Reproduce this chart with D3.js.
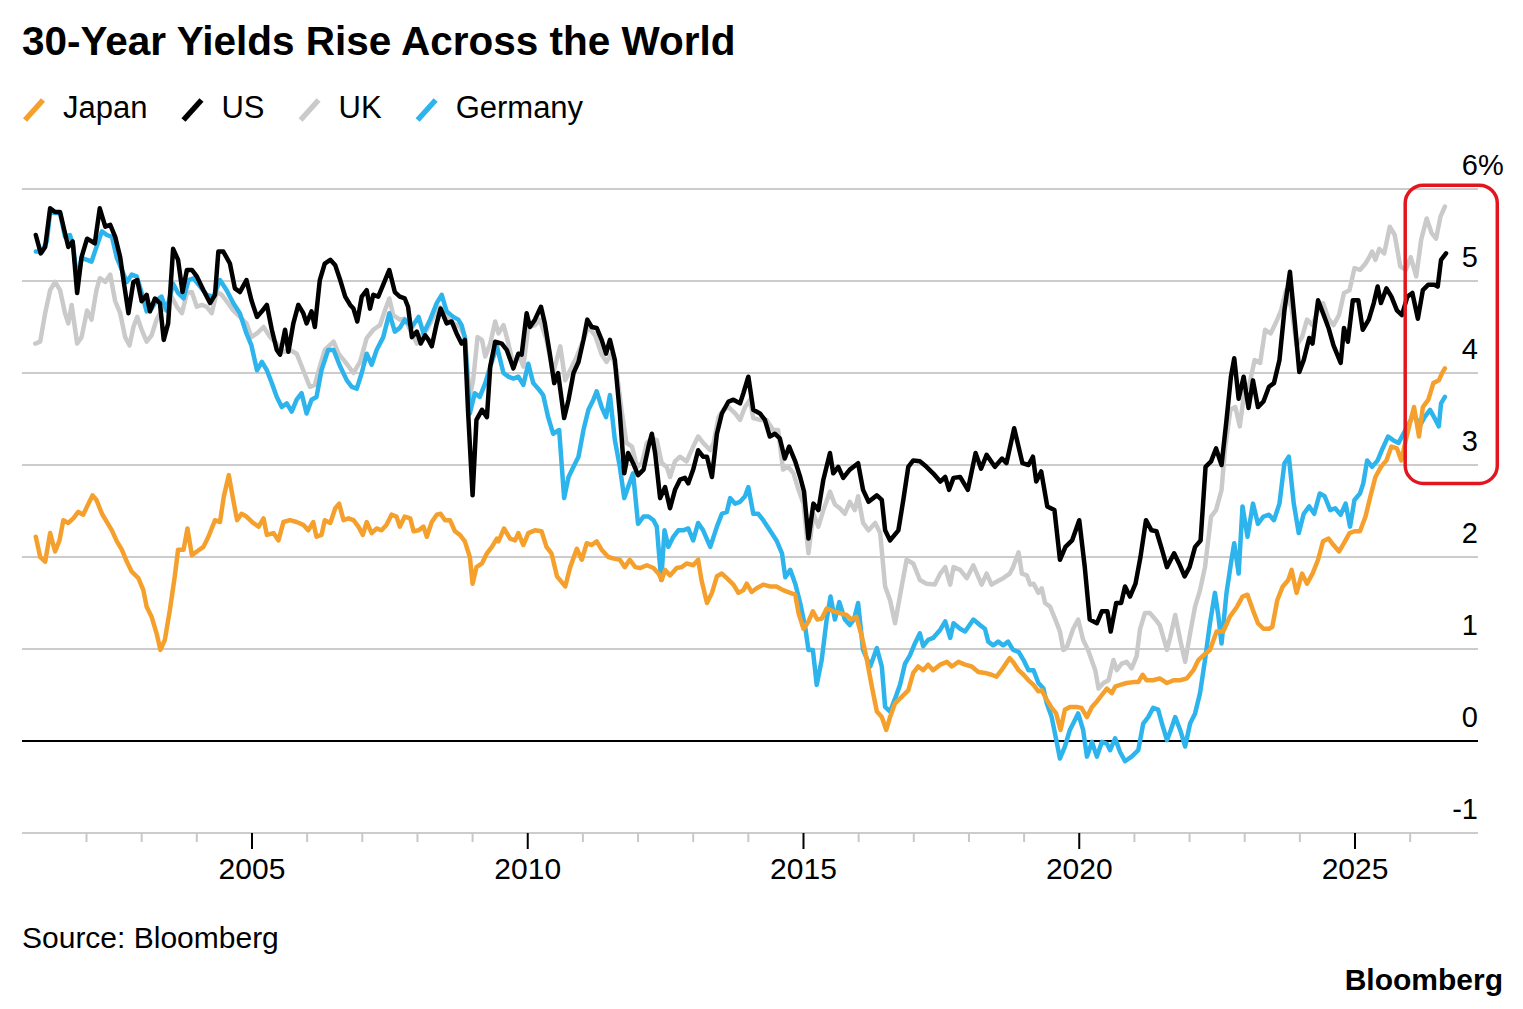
<!DOCTYPE html>
<html>
<head>
<meta charset="utf-8">
<script src="https://cdn.jsdelivr.net/npm/d3@7"></script>
<style>
  body { margin: 0; background: #fff; }
  svg { display: block; }
  text { font-family: "Liberation Sans", Arial, Helvetica, sans-serif; fill: #000; }
</style>
</head>
<body>
<svg id="chart" width="1523" height="1009"></svg>
<script>
// ---------------- DATA (decimal year, % yield) ----------------
const titleText = "30-Year Yields Rise Across the World";
const sourceText = "Source: Bloomberg";
const brandText = "Bloomberg";
const seriesNames = ["Japan", "US", "UK", "Germany"];
const seriesColors = ["#f5a02c", "#000000", "#cacaca", "#2db4ec"];
const yTickValues = [6, 5, 4, 3, 2, 1, 0, -1];
const xMajorTicks = [2005, 2010, 2015, 2020, 2025];
const xMinorTicks = [2002, 2003, 2004, 2006, 2007, 2008, 2009, 2011, 2012, 2013, 2014, 2016, 2017, 2018, 2019, 2021, 2022, 2023, 2024, 2026];

const japan = [[2001.08,2.22],[2001.16,2.00],[2001.25,1.95],[2001.34,2.26],[2001.43,2.06],[2001.51,2.18],[2001.58,2.40],[2001.67,2.37],[2001.76,2.42],[2001.85,2.49],[2001.94,2.46],[2002.01,2.55],[2002.11,2.67],[2002.18,2.62],[2002.28,2.47],[2002.37,2.38],[2002.46,2.29],[2002.55,2.17],[2002.64,2.08],[2002.73,1.95],[2002.82,1.84],[2002.94,1.77],[2003.03,1.64],[2003.09,1.46],[2003.18,1.35],[2003.27,1.17],[2003.34,0.99],[2003.42,1.10],[2003.51,1.42],[2003.60,1.79],[2003.66,2.08],[2003.76,2.08],[2003.83,2.31],[2003.91,2.02],[2004.00,2.06],[2004.12,2.11],[2004.21,2.22],[2004.33,2.40],[2004.42,2.38],[2004.49,2.66],[2004.58,2.89],[2004.66,2.62],[2004.73,2.40],[2004.81,2.47],[2004.90,2.44],[2005.02,2.37],[2005.12,2.33],[2005.21,2.42],[2005.27,2.24],[2005.39,2.26],[2005.48,2.18],[2005.57,2.38],[2005.69,2.40],[2005.81,2.38],[2005.93,2.35],[2006.02,2.29],[2006.11,2.38],[2006.17,2.22],[2006.26,2.24],[2006.32,2.40],[2006.42,2.37],[2006.51,2.53],[2006.58,2.58],[2006.66,2.40],[2006.75,2.42],[2006.84,2.40],[2006.93,2.33],[2007.01,2.24],[2007.08,2.38],[2007.17,2.26],[2007.26,2.31],[2007.35,2.29],[2007.44,2.35],[2007.53,2.46],[2007.62,2.44],[2007.68,2.33],[2007.77,2.44],[2007.87,2.42],[2007.93,2.28],[2008.02,2.29],[2008.11,2.33],[2008.17,2.22],[2008.26,2.38],[2008.35,2.46],[2008.42,2.47],[2008.50,2.40],[2008.59,2.40],[2008.68,2.28],[2008.77,2.24],[2008.86,2.17],[2008.95,2.00],[2009.00,1.71],[2009.07,1.89],[2009.17,1.93],[2009.26,2.04],[2009.35,2.11],[2009.44,2.20],[2009.47,2.17],[2009.57,2.31],[2009.68,2.20],[2009.77,2.18],[2009.83,2.26],[2009.92,2.13],[2010.01,2.26],[2010.13,2.29],[2010.25,2.28],[2010.34,2.11],[2010.43,2.04],[2010.53,1.79],[2010.68,1.68],[2010.77,1.89],[2010.89,2.09],[2010.98,1.97],[2011.07,2.15],[2011.16,2.13],[2011.25,2.17],[2011.34,2.08],[2011.46,2.00],[2011.58,1.98],[2011.67,1.97],[2011.76,1.89],[2011.85,1.97],[2011.95,1.89],[2012.04,1.88],[2012.16,1.91],[2012.28,1.88],[2012.37,1.82],[2012.43,1.75],[2012.49,1.86],[2012.58,1.80],[2012.70,1.88],[2012.79,1.89],[2012.88,1.93],[2013.00,1.91],[2013.09,1.97],[2013.15,1.75],[2013.25,1.50],[2013.34,1.61],[2013.43,1.79],[2013.52,1.82],[2013.61,1.77],[2013.73,1.70],[2013.82,1.61],[2013.91,1.64],[2013.97,1.71],[2014.06,1.62],[2014.15,1.66],[2014.27,1.70],[2014.39,1.68],[2014.51,1.68],[2014.63,1.64],[2014.76,1.61],[2014.85,1.59],[2014.91,1.39],[2015.00,1.22],[2015.09,1.30],[2015.17,1.41],[2015.25,1.32],[2015.33,1.33],[2015.42,1.44],[2015.54,1.41],[2015.66,1.39],[2015.78,1.37],[2015.87,1.32],[2015.96,1.35],[2016.06,1.13],[2016.15,0.88],[2016.24,0.59],[2016.33,0.32],[2016.42,0.26],[2016.50,0.12],[2016.57,0.26],[2016.66,0.41],[2016.78,0.48],[2016.90,0.55],[2016.99,0.74],[2017.08,0.81],[2017.17,0.77],[2017.26,0.83],[2017.35,0.77],[2017.48,0.83],[2017.60,0.86],[2017.69,0.81],[2017.81,0.86],[2017.93,0.83],[2018.05,0.81],[2018.17,0.75],[2018.29,0.74],[2018.41,0.72],[2018.50,0.70],[2018.59,0.77],[2018.69,0.86],[2018.74,0.90],[2018.80,0.86],[2018.90,0.77],[2018.99,0.72],[2019.08,0.66],[2019.17,0.61],[2019.26,0.54],[2019.32,0.55],[2019.41,0.45],[2019.50,0.36],[2019.58,0.30],[2019.66,0.12],[2019.74,0.34],[2019.83,0.37],[2019.95,0.37],[2020.04,0.36],[2020.14,0.26],[2020.23,0.37],[2020.32,0.43],[2020.41,0.50],[2020.50,0.57],[2020.59,0.52],[2020.65,0.59],[2020.74,0.61],[2020.86,0.63],[2020.98,0.64],[2021.07,0.64],[2021.15,0.72],[2021.22,0.66],[2021.34,0.66],[2021.46,0.68],[2021.59,0.63],[2021.71,0.66],[2021.83,0.66],[2021.95,0.68],[2022.07,0.77],[2022.16,0.88],[2022.25,0.93],[2022.37,0.99],[2022.49,1.19],[2022.61,1.19],[2022.73,1.35],[2022.86,1.46],[2022.96,1.57],[2023.05,1.59],[2023.15,1.42],[2023.24,1.28],[2023.34,1.22],[2023.44,1.22],[2023.50,1.24],[2023.59,1.53],[2023.69,1.68],[2023.79,1.75],[2023.85,1.86],[2023.94,1.61],[2024.04,1.82],[2024.13,1.71],[2024.23,1.82],[2024.33,1.97],[2024.42,2.17],[2024.52,2.20],[2024.61,2.13],[2024.71,2.06],[2024.80,2.15],[2024.90,2.26],[2024.99,2.28],[2025.09,2.28],[2025.19,2.44],[2025.28,2.66],[2025.37,2.87],[2025.47,2.98],[2025.57,3.05],[2025.66,3.20],[2025.76,3.18],[2025.84,3.05],[2025.92,3.27],[2026.01,3.49],[2026.07,3.63],[2026.16,3.31],[2026.23,3.63],[2026.33,3.71],[2026.42,3.89],[2026.52,3.92],[2026.58,4.00],[2026.63,4.05]];

const us = [[2001.08,5.50],[2001.17,5.30],[2001.25,5.37],[2001.34,5.79],[2001.43,5.75],[2001.52,5.75],[2001.61,5.52],[2001.67,5.37],[2001.75,5.43],[2001.83,4.87],[2001.91,5.26],[2002.01,5.46],[2002.15,5.41],[2002.24,5.79],[2002.34,5.59],[2002.43,5.61],[2002.52,5.48],[2002.61,5.26],[2002.68,4.97],[2002.76,4.65],[2002.85,4.99],[2002.92,5.01],[2003.00,4.78],[2003.09,4.85],[2003.15,4.67],[2003.24,4.81],[2003.33,4.76],[2003.40,4.36],[2003.48,4.54],[2003.57,5.35],[2003.66,5.23],[2003.74,4.88],[2003.82,5.12],[2003.91,5.12],[2004.00,5.05],[2004.12,4.90],[2004.24,4.76],[2004.33,4.85],[2004.39,5.32],[2004.48,5.32],[2004.60,5.19],[2004.69,4.92],[2004.78,4.88],[2004.90,5.01],[2004.99,4.79],[2005.09,4.61],[2005.18,4.67],[2005.27,4.74],[2005.36,4.47],[2005.45,4.25],[2005.51,4.20],[2005.60,4.47],[2005.66,4.23],[2005.75,4.54],[2005.84,4.74],[2005.93,4.65],[2005.99,4.54],[2006.08,4.67],[2006.14,4.50],[2006.23,5.01],[2006.32,5.19],[2006.42,5.23],[2006.51,5.17],[2006.60,5.01],[2006.69,4.83],[2006.78,4.74],[2006.84,4.70],[2006.91,4.56],[2006.99,4.83],[2007.08,4.90],[2007.14,4.70],[2007.20,4.85],[2007.29,4.83],[2007.38,4.96],[2007.49,5.12],[2007.59,4.88],[2007.68,4.83],[2007.77,4.81],[2007.83,4.72],[2007.90,4.39],[2007.99,4.45],[2008.06,4.32],[2008.14,4.41],[2008.20,4.36],[2008.26,4.29],[2008.35,4.54],[2008.42,4.70],[2008.53,4.54],[2008.62,4.56],[2008.71,4.43],[2008.80,4.32],[2008.86,4.36],[2008.92,3.56],[2009.00,2.67],[2009.07,3.49],[2009.17,3.60],[2009.26,3.52],[2009.32,4.07],[2009.41,4.34],[2009.53,4.32],[2009.62,4.25],[2009.74,4.05],[2009.83,4.21],[2009.89,4.20],[2009.98,4.65],[2010.04,4.50],[2010.13,4.58],[2010.24,4.72],[2010.31,4.54],[2010.40,4.21],[2010.48,3.89],[2010.55,4.00],[2010.66,3.51],[2010.74,3.71],[2010.83,4.00],[2010.92,4.12],[2011.01,4.36],[2011.08,4.58],[2011.16,4.50],[2011.25,4.49],[2011.34,4.36],[2011.42,4.21],[2011.49,4.36],[2011.58,4.14],[2011.67,3.56],[2011.75,2.91],[2011.82,3.13],[2011.91,3.02],[2012.00,2.89],[2012.10,2.95],[2012.19,3.20],[2012.25,3.34],[2012.31,3.13],[2012.40,2.64],[2012.49,2.76],[2012.58,2.53],[2012.67,2.73],[2012.76,2.84],[2012.85,2.86],[2012.91,2.80],[2013.00,2.95],[2013.09,3.16],[2013.18,3.09],[2013.25,3.09],[2013.34,2.87],[2013.43,3.34],[2013.52,3.56],[2013.64,3.69],[2013.73,3.71],[2013.85,3.67],[2013.91,3.78],[2014.00,3.96],[2014.09,3.60],[2014.21,3.56],[2014.30,3.49],[2014.39,3.31],[2014.48,3.34],[2014.57,3.29],[2014.66,3.07],[2014.74,3.20],[2014.85,3.04],[2014.94,2.87],[2015.01,2.71],[2015.09,2.20],[2015.18,2.58],[2015.27,2.51],[2015.36,2.84],[2015.48,3.13],[2015.54,2.91],[2015.63,2.98],[2015.72,2.86],[2015.84,2.95],[2015.99,3.02],[2016.08,2.73],[2016.18,2.60],[2016.33,2.67],[2016.42,2.62],[2016.48,2.29],[2016.57,2.18],[2016.72,2.29],[2016.81,2.62],[2016.90,2.98],[2016.99,3.05],[2017.11,3.04],[2017.23,2.98],[2017.35,2.91],[2017.48,2.82],[2017.57,2.87],[2017.64,2.73],[2017.72,2.86],[2017.84,2.87],[2017.98,2.73],[2018.12,3.13],[2018.22,2.96],[2018.32,3.11],[2018.47,2.98],[2018.60,3.07],[2018.68,3.02],[2018.82,3.40],[2018.97,3.02],[2019.08,3.00],[2019.16,3.09],[2019.22,2.82],[2019.31,2.93],[2019.42,2.55],[2019.55,2.51],[2019.65,1.97],[2019.75,2.11],[2019.87,2.18],[2020.00,2.40],[2020.10,1.89],[2020.19,1.32],[2020.32,1.28],[2020.41,1.41],[2020.51,1.41],[2020.57,1.19],[2020.67,1.50],[2020.76,1.50],[2020.83,1.68],[2020.92,1.57],[2021.02,1.71],[2021.11,2.00],[2021.21,2.40],[2021.31,2.29],[2021.40,2.28],[2021.50,2.08],[2021.59,1.89],[2021.72,2.04],[2021.81,1.93],[2021.91,1.79],[2022.00,1.89],[2022.10,2.11],[2022.20,2.18],[2022.29,2.98],[2022.39,3.04],[2022.48,3.18],[2022.58,3.00],[2022.67,3.49],[2022.75,3.96],[2022.81,4.16],[2022.89,3.72],[2022.98,3.96],[2023.07,3.62],[2023.15,3.92],[2023.24,3.63],[2023.34,3.69],[2023.44,3.85],[2023.53,3.89],[2023.63,4.14],[2023.72,4.68],[2023.82,5.10],[2023.91,4.54],[2023.99,4.01],[2024.07,4.14],[2024.17,4.38],[2024.23,4.32],[2024.33,4.79],[2024.42,4.65],[2024.52,4.49],[2024.61,4.30],[2024.74,4.11],[2024.80,4.49],[2024.87,4.34],[2024.96,4.79],[2025.06,4.79],[2025.14,4.47],[2025.25,4.58],[2025.34,4.76],[2025.41,4.94],[2025.47,4.76],[2025.57,4.92],[2025.66,4.83],[2025.76,4.68],[2025.85,4.63],[2025.95,4.83],[2026.04,4.87],[2026.14,4.59],[2026.23,4.90],[2026.33,4.96],[2026.44,4.96],[2026.50,4.94],[2026.56,5.23],[2026.65,5.30]];

const uk = [[2001.07,4.32],[2001.16,4.34],[2001.25,4.65],[2001.34,4.90],[2001.43,4.99],[2001.52,4.90],[2001.61,4.65],[2001.67,4.54],[2001.73,4.74],[2001.83,4.32],[2001.91,4.39],[2002.01,4.68],[2002.09,4.58],[2002.18,4.90],[2002.24,5.03],[2002.34,4.99],[2002.43,5.07],[2002.52,4.78],[2002.61,4.65],[2002.70,4.39],[2002.78,4.30],[2002.85,4.50],[2002.92,4.61],[2003.00,4.47],[2003.09,4.34],[2003.18,4.41],[2003.27,4.58],[2003.36,4.68],[2003.45,4.72],[2003.54,4.83],[2003.64,4.72],[2003.73,4.65],[2003.82,4.87],[2003.91,4.88],[2004.00,4.72],[2004.09,4.74],[2004.18,4.72],[2004.27,4.65],[2004.36,4.88],[2004.45,4.85],[2004.54,4.78],[2004.66,4.68],[2004.78,4.61],[2004.90,4.54],[2004.99,4.39],[2005.09,4.43],[2005.21,4.50],[2005.33,4.39],[2005.45,4.32],[2005.57,4.23],[2005.69,4.25],[2005.81,4.21],[2005.93,4.03],[2006.05,3.85],[2006.14,3.87],[2006.23,4.07],[2006.32,4.25],[2006.48,4.34],[2006.57,4.21],[2006.69,4.12],[2006.84,4.00],[2006.96,4.12],[2007.08,4.38],[2007.20,4.47],[2007.32,4.52],[2007.41,4.68],[2007.49,4.81],[2007.56,4.63],[2007.68,4.58],[2007.77,4.59],[2007.90,4.43],[2007.99,4.32],[2008.08,4.41],[2008.17,4.47],[2008.29,4.61],[2008.41,4.72],[2008.53,4.61],[2008.65,4.54],[2008.77,4.50],[2008.86,4.39],[2008.95,3.74],[2009.01,3.92],[2009.09,4.39],[2009.17,4.36],[2009.23,4.18],[2009.32,4.32],[2009.41,4.56],[2009.47,4.43],[2009.56,4.52],[2009.62,4.39],[2009.74,4.09],[2009.83,4.21],[2009.92,4.07],[2010.01,4.50],[2010.13,4.52],[2010.22,4.58],[2010.34,4.36],[2010.46,4.00],[2010.59,4.29],[2010.68,3.92],[2010.77,4.03],[2010.89,4.18],[2011.01,4.36],[2011.10,4.50],[2011.22,4.41],[2011.34,4.20],[2011.43,4.12],[2011.52,4.21],[2011.61,4.03],[2011.70,3.60],[2011.79,3.24],[2011.89,3.20],[2011.98,2.98],[2012.07,3.02],[2012.16,3.24],[2012.25,3.29],[2012.34,3.27],[2012.43,3.02],[2012.52,2.98],[2012.58,2.87],[2012.67,3.04],[2012.76,3.09],[2012.88,3.04],[2013.00,3.20],[2013.09,3.31],[2013.18,3.24],[2013.31,3.16],[2013.37,3.24],[2013.46,3.52],[2013.55,3.60],[2013.64,3.63],[2013.76,3.56],[2013.85,3.49],[2013.94,3.63],[2014.03,3.71],[2014.09,3.51],[2014.21,3.49],[2014.33,3.49],[2014.45,3.38],[2014.54,3.38],[2014.63,2.95],[2014.72,2.98],[2014.82,2.91],[2014.91,2.73],[2015.00,2.58],[2015.09,2.04],[2015.18,2.47],[2015.27,2.33],[2015.36,2.51],[2015.48,2.71],[2015.57,2.57],[2015.66,2.53],[2015.75,2.47],[2015.84,2.60],[2015.93,2.51],[2015.99,2.66],[2016.08,2.37],[2016.18,2.29],[2016.30,2.37],[2016.39,2.26],[2016.48,1.68],[2016.57,1.53],[2016.66,1.28],[2016.78,1.68],[2016.87,1.97],[2016.99,1.93],[2017.11,1.75],[2017.23,1.71],[2017.38,1.70],[2017.48,1.82],[2017.57,1.89],[2017.66,1.70],[2017.72,1.89],[2017.84,1.86],[2017.96,1.77],[2018.08,1.91],[2018.23,1.70],[2018.32,1.82],[2018.41,1.70],[2018.50,1.73],[2018.62,1.77],[2018.74,1.82],[2018.80,1.89],[2018.90,2.05],[2018.96,1.82],[2019.05,1.80],[2019.11,1.70],[2019.17,1.71],[2019.26,1.61],[2019.32,1.66],[2019.38,1.50],[2019.47,1.46],[2019.56,1.33],[2019.65,1.19],[2019.71,0.99],[2019.77,1.01],[2019.89,1.22],[2019.98,1.32],[2020.07,1.10],[2020.16,0.99],[2020.29,0.77],[2020.35,0.57],[2020.44,0.63],[2020.53,0.66],[2020.62,0.88],[2020.68,0.77],[2020.77,0.84],[2020.86,0.86],[2020.95,0.79],[2021.04,0.92],[2021.10,1.21],[2021.19,1.39],[2021.28,1.39],[2021.37,1.33],[2021.46,1.26],[2021.59,0.99],[2021.65,1.13],[2021.74,1.37],[2021.83,1.10],[2021.92,0.86],[2022.01,1.17],[2022.10,1.46],[2022.19,1.64],[2022.28,1.89],[2022.39,2.44],[2022.48,2.51],[2022.58,2.73],[2022.64,3.16],[2022.74,3.60],[2022.83,3.63],[2022.91,3.42],[2022.99,3.78],[2023.09,3.89],[2023.18,4.14],[2023.28,4.11],[2023.37,4.47],[2023.47,4.43],[2023.56,4.54],[2023.66,4.68],[2023.75,4.90],[2023.85,4.70],[2023.94,4.30],[2024.04,4.39],[2024.13,4.58],[2024.23,4.52],[2024.33,4.68],[2024.42,4.76],[2024.52,4.59],[2024.61,4.52],[2024.71,4.63],[2024.80,4.87],[2024.90,4.90],[2024.99,5.14],[2025.09,5.12],[2025.19,5.19],[2025.25,5.25],[2025.31,5.32],[2025.37,5.23],[2025.44,5.35],[2025.53,5.30],[2025.63,5.59],[2025.72,5.50],[2025.82,5.16],[2025.92,5.12],[2026.01,5.26],[2026.11,5.05],[2026.20,5.45],[2026.30,5.68],[2026.39,5.52],[2026.47,5.46],[2026.55,5.70],[2026.63,5.81]];

const germany = [[2001.08,5.32],[2001.19,5.32],[2001.28,5.43],[2001.34,5.75],[2001.43,5.74],[2001.52,5.74],[2001.61,5.48],[2001.70,5.50],[2001.76,5.37],[2001.83,5.01],[2001.91,5.25],[2002.01,5.23],[2002.09,5.21],[2002.18,5.37],[2002.28,5.54],[2002.37,5.50],[2002.46,5.48],[2002.55,5.25],[2002.64,5.12],[2002.73,4.99],[2002.82,5.07],[2002.91,5.05],[2003.00,4.87],[2003.09,4.67],[2003.18,4.70],[2003.27,4.79],[2003.36,4.83],[2003.45,4.68],[2003.57,4.97],[2003.66,4.87],[2003.76,4.81],[2003.85,5.01],[2003.94,5.03],[2004.06,4.94],[2004.18,4.85],[2004.30,4.83],[2004.42,5.01],[2004.54,4.90],[2004.66,4.76],[2004.78,4.65],[2004.90,4.43],[2004.99,4.30],[2005.09,4.03],[2005.18,4.12],[2005.27,4.03],[2005.36,3.89],[2005.45,3.74],[2005.54,3.63],[2005.63,3.67],[2005.72,3.58],[2005.81,3.71],[2005.90,3.78],[2005.99,3.56],[2006.08,3.71],[2006.17,3.74],[2006.26,4.03],[2006.38,4.25],[2006.48,4.25],[2006.60,4.07],[2006.72,3.92],[2006.81,3.85],[2006.90,3.83],[2006.99,4.00],[2007.08,4.21],[2007.17,4.09],[2007.26,4.25],[2007.38,4.39],[2007.49,4.65],[2007.59,4.45],[2007.68,4.49],[2007.77,4.58],[2007.90,4.50],[2008.02,4.61],[2008.11,4.43],[2008.23,4.58],[2008.35,4.76],[2008.44,4.85],[2008.53,4.67],[2008.65,4.61],[2008.74,4.58],[2008.80,4.52],[2008.86,4.39],[2008.95,3.56],[2009.04,3.78],[2009.13,3.74],[2009.23,3.89],[2009.32,4.07],[2009.44,4.29],[2009.56,4.00],[2009.65,3.96],[2009.74,3.94],[2009.83,3.96],[2009.92,3.87],[2010.01,4.10],[2010.10,3.89],[2010.19,3.83],[2010.28,3.76],[2010.37,3.52],[2010.46,3.34],[2010.57,3.38],[2010.66,2.64],[2010.74,2.87],[2010.83,2.98],[2010.92,3.09],[2011.01,3.38],[2011.10,3.60],[2011.19,3.71],[2011.25,3.80],[2011.34,3.63],[2011.42,3.52],[2011.49,3.76],[2011.58,3.27],[2011.67,2.98],[2011.75,2.64],[2011.82,2.76],[2011.91,2.91],[2012.00,2.36],[2012.10,2.44],[2012.19,2.44],[2012.28,2.40],[2012.34,2.33],[2012.42,1.75],[2012.48,2.29],[2012.55,2.11],[2012.64,2.22],[2012.73,2.29],[2012.82,2.29],[2012.91,2.31],[2013.00,2.18],[2013.09,2.37],[2013.18,2.29],[2013.31,2.11],[2013.43,2.33],[2013.52,2.47],[2013.61,2.49],[2013.67,2.64],[2013.76,2.58],[2013.85,2.60],[2013.94,2.66],[2014.00,2.76],[2014.09,2.47],[2014.18,2.47],[2014.27,2.40],[2014.39,2.29],[2014.51,2.18],[2014.61,2.04],[2014.67,1.78],[2014.76,1.86],[2014.85,1.71],[2014.94,1.50],[2015.03,1.24],[2015.09,0.99],[2015.17,0.99],[2015.24,0.61],[2015.33,0.88],[2015.42,1.32],[2015.49,1.57],[2015.57,1.32],[2015.65,1.51],[2015.75,1.32],[2015.84,1.26],[2015.92,1.33],[2015.99,1.50],[2016.08,0.99],[2016.21,0.81],[2016.33,1.01],[2016.42,0.81],[2016.48,0.37],[2016.57,0.32],[2016.66,0.46],[2016.75,0.61],[2016.84,0.84],[2016.93,0.93],[2017.02,1.06],[2017.11,1.17],[2017.17,1.03],[2017.26,1.10],[2017.35,1.12],[2017.48,1.21],[2017.57,1.30],[2017.66,1.12],[2017.72,1.28],[2017.84,1.22],[2017.93,1.19],[2018.08,1.32],[2018.20,1.26],[2018.29,1.22],[2018.35,1.08],[2018.44,1.04],[2018.53,1.08],[2018.62,1.04],[2018.71,1.08],[2018.80,0.99],[2018.90,0.97],[2018.99,0.88],[2019.08,0.77],[2019.17,0.77],[2019.26,0.63],[2019.35,0.57],[2019.41,0.41],[2019.50,0.26],[2019.56,0.08],[2019.65,-0.19],[2019.74,-0.06],[2019.83,0.12],[2019.89,0.19],[2019.98,0.30],[2020.07,0.12],[2020.14,-0.17],[2020.23,-0.01],[2020.32,-0.17],[2020.41,-0.01],[2020.50,-0.03],[2020.56,-0.10],[2020.65,0.03],[2020.74,-0.12],[2020.83,-0.22],[2020.95,-0.17],[2021.07,-0.10],[2021.16,0.19],[2021.25,0.26],[2021.34,0.36],[2021.43,0.34],[2021.50,0.19],[2021.59,0.01],[2021.66,0.12],[2021.74,0.26],[2021.83,0.12],[2021.92,-0.06],[2022.01,0.19],[2022.10,0.30],[2022.19,0.52],[2022.28,0.88],[2022.37,1.28],[2022.46,1.61],[2022.52,1.37],[2022.58,1.06],[2022.67,1.61],[2022.76,1.97],[2022.81,2.15],[2022.89,1.82],[2022.96,2.55],[2023.05,2.22],[2023.15,2.58],[2023.24,2.36],[2023.34,2.44],[2023.44,2.46],[2023.53,2.40],[2023.63,2.58],[2023.72,3.02],[2023.80,3.09],[2023.89,2.58],[2023.98,2.26],[2024.07,2.47],[2024.17,2.55],[2024.26,2.47],[2024.36,2.69],[2024.45,2.66],[2024.55,2.51],[2024.64,2.53],[2024.74,2.46],[2024.83,2.58],[2024.91,2.33],[2024.99,2.62],[2025.09,2.69],[2025.15,2.80],[2025.22,3.05],[2025.31,2.98],[2025.41,3.05],[2025.50,3.18],[2025.60,3.31],[2025.69,3.27],[2025.79,3.24],[2025.87,3.33],[2025.98,3.45],[2026.07,3.56],[2026.17,3.42],[2026.26,3.52],[2026.36,3.60],[2026.46,3.49],[2026.52,3.42],[2026.56,3.67],[2026.63,3.74]];

// annotation: highlighted latest stretch (in data units)
const highlight = { from: 2025.91, to: 2027.58, top: 6.04, bottom: 2.80 };

// ---------------- CHART ----------------
const svg = d3.select("#chart");
const W = 1523, H = 1009;
const plot = { left: 22, right: 1478, top: 189, bottom: 833 };

const x = d3.scaleLinear().domain([2000.83, 2027.23]).range([plot.left, plot.right]);
const y = d3.scaleLinear().domain([-1, 6]).range([plot.bottom, plot.top]);

svg.append("rect").attr("width", W).attr("height", H).attr("fill", "#fff");

// Title
svg.append("text").attr("x", 22).attr("y", 55)
  .style("font-size", "40.5px").style("font-weight", "bold")
  .text(titleText);

// Legend
const legend = svg.append("g").attr("class", "legend");
let lx = 23;
const allSeries = { Japan: japan, US: us, UK: uk, Germany: germany };
seriesNames.forEach((name, i) => {
  legend.append("line")
    .attr("x1", lx + 2).attr("y1", 120).attr("x2", lx + 20).attr("y2", 100)
    .attr("stroke", seriesColors[i]).attr("stroke-width", 5.5).attr("stroke-linecap", "butt");
  const t = legend.append("text").attr("x", lx + 40).attr("y", 118)
    .style("font-size", "31px").text(name);
  lx = lx + 40 + t.node().getComputedTextLength() + 34;
});

// Gridlines
const grid = svg.append("g");
yTickValues.forEach(v => {
  grid.append("line")
    .attr("x1", plot.left).attr("x2", plot.right)
    .attr("y1", y(v)).attr("y2", y(v))
    .attr("stroke", v === 0 ? "#000" : "#cccccc")
    .attr("stroke-width", 2);
});

// Y labels (right side, above gridlines)
yTickValues.forEach(v => {
  grid.append("text")
    .attr("x", plot.right).attr("y", y(v) - 14)
    .attr("text-anchor", "end")
    .style("font-size", "29px")
    .text(v);
  if (v === d3.max(yTickValues)) {
    grid.append("text")
      .attr("x", plot.right).attr("y", y(v) - 14)
      .attr("text-anchor", "start")
      .style("font-size", "29px")
      .text("%");
  }
});

// X axis ticks
const xa = svg.append("g");
xMinorTicks.forEach(t => {
  xa.append("line").attr("x1", x(t)).attr("x2", x(t))
    .attr("y1", plot.bottom).attr("y2", plot.bottom + 9)
    .attr("stroke", "#c8c8c8").attr("stroke-width", 2);
});
xMajorTicks.forEach(t => {
  xa.append("line").attr("x1", x(t)).attr("x2", x(t))
    .attr("y1", plot.bottom).attr("y2", plot.bottom + 16)
    .attr("stroke", "#000").attr("stroke-width", 2);
  xa.append("text").attr("x", x(t)).attr("y", 879)
    .attr("text-anchor", "middle").style("font-size", "30px").text(t);
});

// Lines
const line = d3.line().x(d => x(d[0])).y(d => y(d[1]));
const drawOrder = ["UK", "Germany", "Japan", "US"];
const lines = svg.append("g");
drawOrder.forEach(name => {
  const i = seriesNames.indexOf(name);
  lines.append("path")
    .datum(allSeries[name])
    .attr("d", line)
    .attr("fill", "none")
    .attr("stroke", seriesColors[i])
    .attr("stroke-width", 4.5)
    .attr("stroke-linejoin", "round")
    .attr("stroke-linecap", "round");
});

// Highlight box
svg.append("rect")
  .attr("x", x(highlight.from)).attr("y", y(highlight.top))
  .attr("width", x(highlight.to) - x(highlight.from))
  .attr("height", y(highlight.bottom) - y(highlight.top))
  .attr("rx", 18).attr("ry", 18)
  .attr("fill", "none").attr("stroke", "#e3151f").attr("stroke-width", 3.5);

// Footer
svg.append("text").attr("x", 22).attr("y", 948)
  .style("font-size", "30px").text(sourceText);
svg.append("text").attr("x", 1503).attr("y", 990)
  .attr("text-anchor", "end")
  .style("font-size", "30px").style("font-weight", "bold")
  .text(brandText);
</script>
</body>
</html>
